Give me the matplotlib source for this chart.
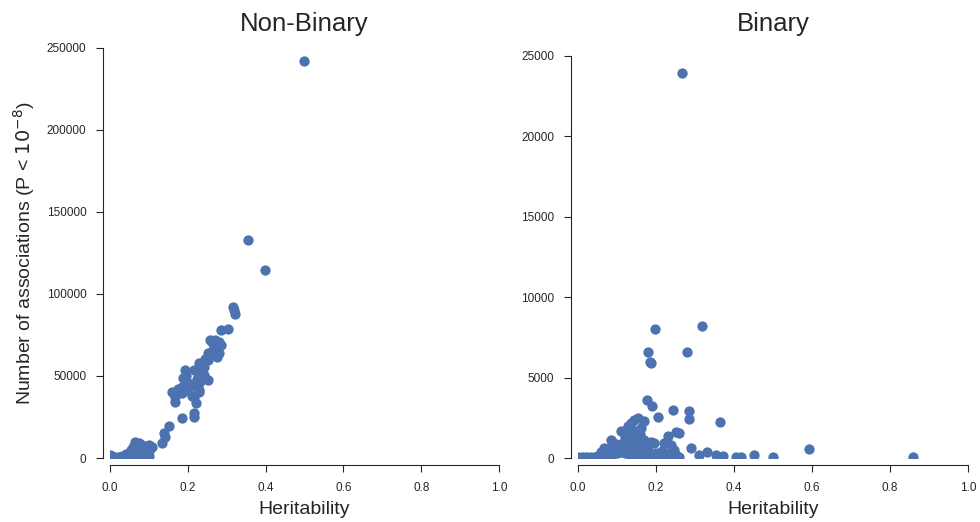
import numpy as np
import matplotlib
matplotlib.use("Agg")
import matplotlib.pyplot as plt
import seaborn as sns

# heritability vs. number of genome-wide significant hits, per trait
nb_h2 = [0.499, 0.355, 0.399, 0.316, 0.319, 0.322, 0.286, 0.303, 0.256, 0.261,
         0.279, 0.286, 0.281, 0.274, 0.253, 0.253, 0.243, 0.228, 0.217, 0.235,
         0.243, 0.253, 0.235, 0.228, 0.192, 0.189, 0.184, 0.159, 0.166, 0.166,
         0.184, 0.197, 0.205, 0.228, 0.217, 0.222, 0.184, 0.215, 0.215, 0.153,
         0.138, 0.141, 0.133, 0.107, 0.100, 0.064, 0.074, 0.082, 0.090,
         0.267, 0.271, 0.262, 0.245, 0.240, 0.210, 0.200, 0.225, 0.230, 0.195,
         0.176, 0.210,
         0.000, 0.005, 0.010, 0.020, 0.030, 0.040, 0.050, 0.055, 0.060, 0.065,
         0.070, 0.075, 0.080, 0.085, 0.090, 0.095, 0.100, 0.060, 0.070, 0.045,
         0.035, 0.015, 0.100, 0.085, 0.055]
nb_hits = [242000, 132600, 114500, 92000, 90000, 87500, 77800, 78400, 71700, 70500,
           70500, 68700, 63800, 61400, 63800, 59600, 55300, 57800, 53500, 52300,
           50500, 47400, 47400, 45600, 53500, 48600, 43200, 40100, 37100, 34000,
           39500, 41300, 43200, 41300, 37100, 33400, 24300, 27400, 25000, 19500,
           15200, 12800, 9100, 6700, 7900, 9700, 9100, 7900, 6700,
           67000, 72000, 65000, 60500, 58000, 44500, 46000, 48000, 40000, 50000,
           42000, 38000,
           2000, 1500, 800, 500, 1200, 2500, 3000, 5000, 1500, 4000,
           2500, 6000, 3500, 2000, 4500, 3000, 1500, 7000, 8000, 1000,
           300, 200, 4500, 5500, 2000]

bin_h2 = [0.266, 0.197, 0.317, 0.179, 0.279, 0.184, 0.186, 0.176, 0.189, 0.243,
          0.284, 0.284, 0.363, 0.205, 0.153, 0.143, 0.136, 0.128, 0.169, 0.161,
          0.110, 0.251, 0.258, 0.230, 0.084, 0.092, 0.187, 0.194, 0.220, 0.238,
          0.289, 0.066, 0.059, 0.332, 0.309, 0.353, 0.373, 0.404, 0.450, 0.499,
          0.591, 0.859, 0.417,
          0.000, 0.010, 0.020, 0.030, 0.040, 0.050, 0.060, 0.070, 0.080, 0.090,
          0.100, 0.110, 0.120, 0.130, 0.140, 0.150, 0.160, 0.170, 0.180, 0.190,
          0.200, 0.210, 0.220, 0.230, 0.240, 0.250, 0.260,
          0.100, 0.110, 0.120, 0.130, 0.140, 0.150, 0.160, 0.170, 0.180, 0.115,
          0.125, 0.135, 0.145, 0.155, 0.165, 0.175, 0.105, 0.120, 0.140, 0.160,
          0.230, 0.245, 0.250, 0.215, 0.200, 0.070, 0.080, 0.095, 0.150, 0.130,
          0.135, 0.145, 0.160, 0.120, 0.170]
bin_hits = [23900, 8000, 8190, 6580, 6580, 5950, 5900, 3600, 3230, 2980,
            2900, 2420, 2230, 2550, 2480, 2360, 2170, 1990, 2300, 1860,
            1670, 1610, 1550, 1360, 1120, 930, 990, 930, 930, 810,
            620, 620, 370, 370, 190, 190, 120, 60, 190, 60,
            560, 40, 60,
            60, 60, 60, 60, 80, 100, 120, 150, 200, 250,
            300, 350, 300, 250, 200, 150, 100, 80, 60, 60,
            60, 60, 60, 80, 100, 80, 60,
            700, 900, 1100, 1300, 1500, 1200, 900, 700, 500, 600,
            800, 1000, 800, 600, 400, 300, 400, 500, 400, 350,
            300, 500, 200, 450, 300, 400, 600, 500, 900, 1800,
            1400, 1700, 1500, 1300, 1100]

sns.set_style("ticks")
plt.rcParams['font.family'] = ['Liberation Sans', 'DejaVu Sans']
dark = '.15'
blue = sns.color_palette("deep")[0]

fig = plt.figure(figsize=(9.8, 5.22), dpi=100)
ax1 = fig.add_axes([0.1122, 0.1226, 0.397, 0.786])
ax2 = fig.add_axes([0.5898, 0.1226, 0.398, 0.786])

ax1.scatter(nb_h2, nb_hits, s=55, color=blue, linewidth=0)
ax1.set_xlim(0, 1)
ax1.set_ylim(0, 250000)
ax1.set_yticks(np.arange(0, 250001, 50000))
ax1.set_title('Non-Binary', fontsize=18.5, color=dark, pad=12)
ax1.set_ylabel('Number of associations (P < $10^{-8}$)', fontsize=14,
               color=dark, labelpad=7)

ax2.scatter(bin_h2, bin_hits, s=55, color=blue, linewidth=0)
ax2.set_xlim(0, 1)
ax2.set_ylim(0, 25500)
ax2.set_yticks(np.arange(0, 25001, 5000))
ax2.set_title('Binary', fontsize=18.5, color=dark, pad=12)

for ax in (ax1, ax2):
    ax.set_xticks(np.arange(0, 1.01, 0.2))
    ax.set_xticklabels(['0.0', '0.2', '0.4', '0.6', '0.8', '1.0'])
    ax.set_xlabel('Heritability', fontsize=14, color=dark, labelpad=5)
    ax.tick_params(labelsize=8.5, colors=dark, length=5, pad=7)
    sns.despine(ax=ax, offset=5, trim=True)

fig.savefig('out.png', dpi=100)
